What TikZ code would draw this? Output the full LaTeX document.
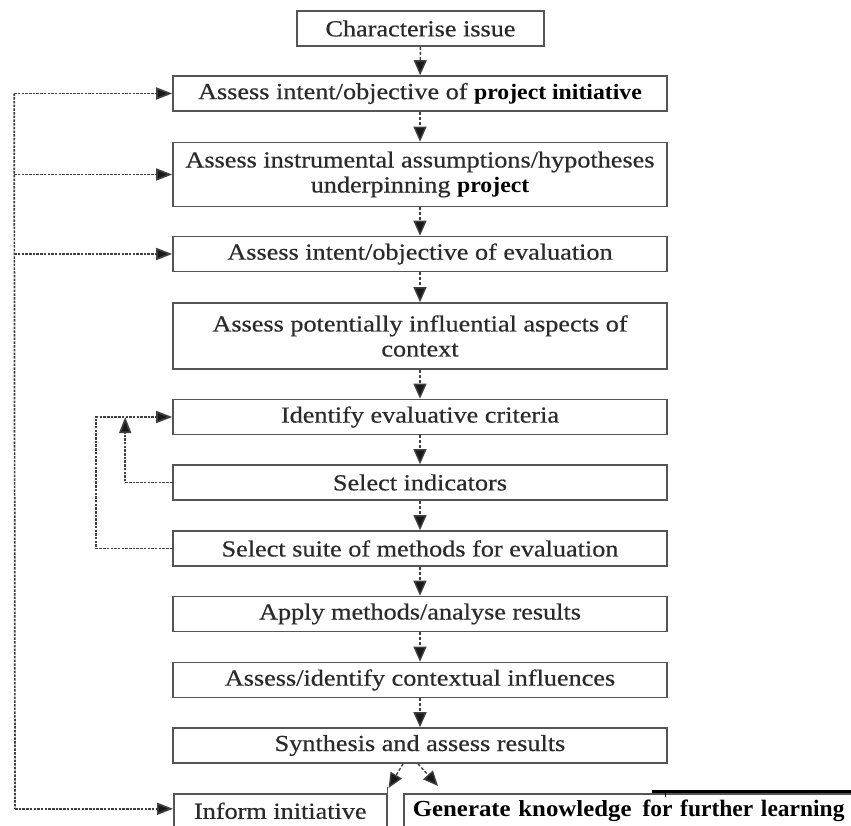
\documentclass[tikz,border=0pt]{standalone}
\usepackage{fontspec}
\setmainfont[FakeStretch=1.14,FakeBold=0.5]{Liberation Serif}
\newfontfamily\bolder[FakeStretch=1.08]{Liberation Serif}
\newfontfamily\boldcond{Liberation Serif}
\usetikzlibrary{arrows.meta}
\definecolor{boxgray}{HTML}{555555}
\definecolor{txtgray}{HTML}{2A2A2A}
\definecolor{linegray}{HTML}{404040}
\begin{document}
\begin{tikzpicture}[x=1pt,y=-1pt,
  box/.style={draw=boxgray, line width=1.6pt, minimum width=494pt, minimum height=35pt,
    inner sep=0pt, align=center, text=txtgray, font=\fontsize{23}{25}\selectfont},
  flow/.style={draw=linegray, line width=1.4pt, dash pattern=on 3pt off 2pt,
    -{Triangle[width=13pt,length=15pt,fill=black!90]}},
  loopline/.style={draw=linegray, line width=1.7pt, dash pattern=on 2.5pt off 1.2pt},
  looparrow/.style={loopline, -{Triangle[width=12pt,length=16pt,fill=black!90]}}
]
\useasboundingbox (0,0) rectangle (851,825);

\node[box, minimum width=247pt] (ch) at (420.5,28.5) {Characterise issue};
\node[box] (a1) at (420,93.5) {Assess intent/objective of {\bolder\bfseries\color{black}\fontsize{22}{25}\selectfont project initiative}};
\node[box, minimum height=64pt] (a2) at (420,174.5) {Assess instrumental assumptions/hypotheses\\underpinning {\bolder\bfseries\color{black}\fontsize{22}{25}\selectfont project}};
\node[box] (a3) at (420,254) {Assess intent/objective of evaluation};
\node[box, minimum height=66pt] (a4) at (420,336) {Assess potentially influential aspects of\\context};
\node[box] (id) at (420,417) {Identify evaluative criteria};
\node[box] (si) at (420,482.5) {Select indicators};
\node[box] (ss) at (420,548.5) {Select suite of methods for evaluation};
\node[box] (am) at (420,614) {Apply methods/analyse results};
\node[box] (ai) at (420,680) {Assess/identify contextual influences};
\node[box] (sy) at (420,745.5) {Synthesis and assess results};

\begin{scope}
\clip (0,0) rectangle (851,825);
\node[box, minimum width=213pt, minimum height=34pt, anchor=north west] (inf) at (173,793) {Inform initiative};
\node[box, minimum width=470pt, text width=452pt, minimum height=34pt, align=left, anchor=north west, inner xsep=9pt] (gen) at (403,793)
  {{\bolder\bfseries\color{black}\fontsize{23}{25}\selectfont Generate knowledge}\hspace{11pt}{\boldcond\bfseries\color{black}\fontsize{23.5}{25}\selectfont for further learning}};
\draw[black, line width=3pt] ([xshift=249pt,yshift=1.5pt]gen.north west) -- ([xshift=460pt,yshift=1.5pt]gen.north west);
\draw[black, line width=1pt] ([xshift=262pt,yshift=1.5pt]gen.north west) -- ([xshift=262pt,yshift=-4pt]gen.north west);
\draw[boxgray, line width=1.6pt] (inf.north east) -- ([yshift=6pt]inf.north east);
\end{scope}

% main flow
\draw[flow] (ch) -- (a1);
\draw[flow] (a1) -- (a2);
\draw[flow] (a2) -- (a3);
\draw[flow] (a3) -- (a4);
\draw[flow] (a4) -- (id);
\draw[flow] (id) -- (si);
\draw[flow] (si) -- (ss);
\draw[flow] (ss) -- (am);
\draw[flow] (am) -- (ai);
\draw[flow] (ai) -- (sy);
\coordinate (s1) at ([xshift=-17pt]sy.south);
\coordinate (s2) at ([xshift=-2pt]sy.south);
\coordinate (e1) at ([xshift=1pt,yshift=5pt]inf.north east);
\coordinate (e2) at ([xshift=35pt,yshift=7pt]gen.north west);
\draw[flow] (s1) -- (e1);
\draw[flow] (s2) -- (e2);

% outer feedback
\coordinate (T1) at ([xshift=-158pt]a1.west);
\coordinate (T2) at ([xshift=-158pt]a2.west);
\coordinate (T3) at ([xshift=-158pt]a3.west);
\coordinate (T4) at ([xshift=-158pt,yshift=2pt]inf.west);
\draw[loopline] (T1) -- (T4);
\draw[looparrow] (T1) -- (a1.west);
\draw[looparrow] (T2) -- (a2.west);
\draw[looparrow] (T3) -- (a3.west);
\draw[looparrow] (T4) -- (T4 -| inf.west);

% inner feedback
\coordinate (L1) at ([xshift=-76pt]ss.west);
\coordinate (L2) at ([xshift=-76pt]id.west);
\coordinate (L3) at ([xshift=-47pt]si.west);
\draw[looparrow] (ss.west) -- (L1) -- (L2) -- (id.west);
\draw[looparrow] (si.west) -- (L3) -- (L3 |- id.west);
\end{tikzpicture}
\end{document}
